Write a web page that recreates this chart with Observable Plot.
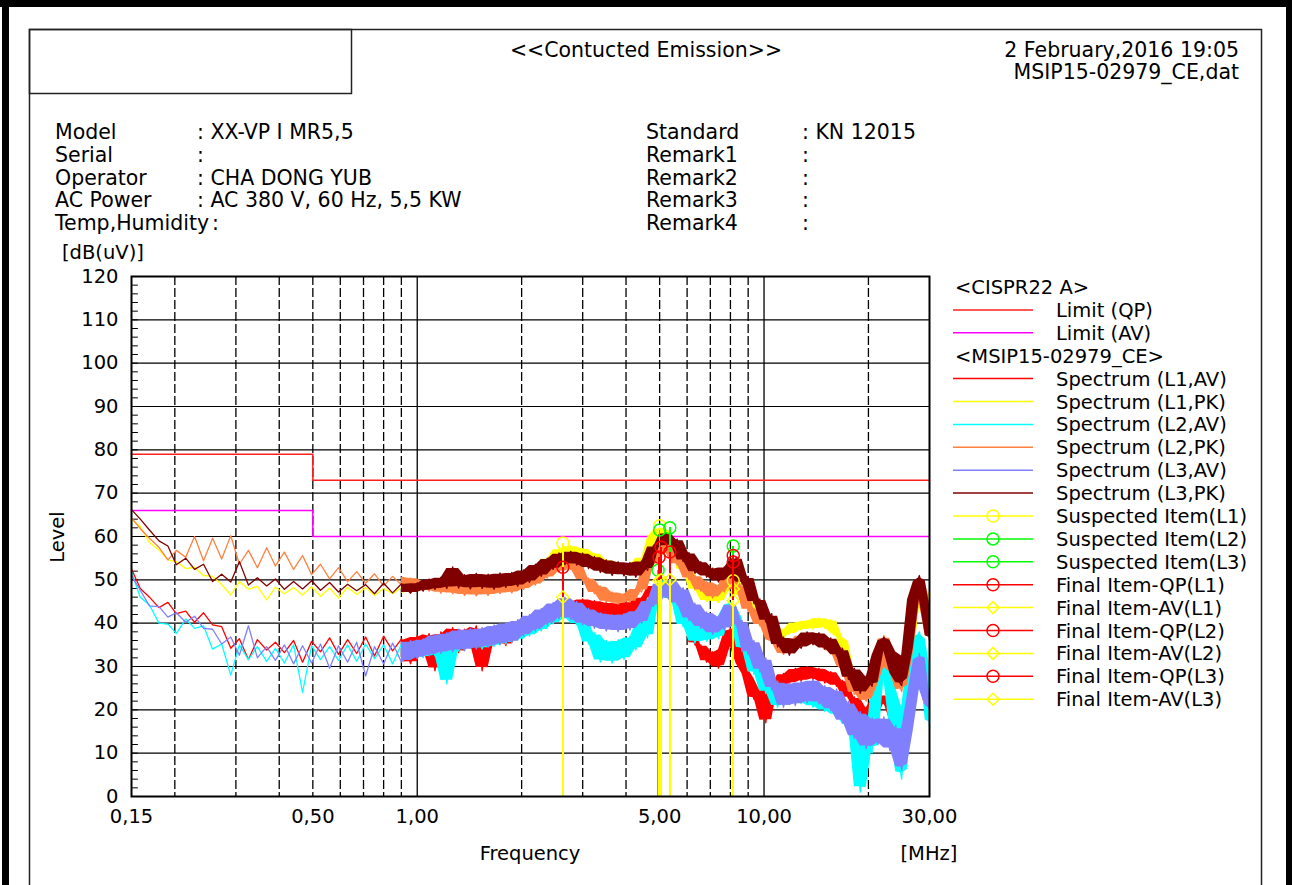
<!DOCTYPE html>
<html><head><meta charset="utf-8">
<script src="https://cdn.jsdelivr.net/npm/d3@7"></script>
<script src="https://cdn.jsdelivr.net/npm/@observablehq/plot@0.6"></script>
<style>
html,body{margin:0;padding:0;background:#fff;}
#page{position:relative;width:1292px;height:885px;overflow:hidden;background:#fff;font-family:"DejaVu Sans",sans-serif;}
#plot{position:absolute;left:0;top:250px;}
#overlay{position:absolute;left:0;top:0;pointer-events:none;}
</style></head>
<body><div id="page"><div id="plot"></div><svg id="overlay" width="1292" height="885"></svg></div>
<script>
// ---------- data ----------
const freqMHz = [0.150,0.159,0.169,0.180,0.191,0.202,0.215,0.228,0.242,0.257,
0.273,0.290,0.307,0.326,0.346,0.368,0.390,0.414,0.440,0.467,
0.496,0.526,0.559,0.593,0.630,0.669,0.710,0.753,0.800,0.849,
0.901,0.957,1.000,1.040,1.082,1.125,1.170,1.217,1.265,1.316,
1.369,1.423,1.480,1.539,1.601,1.665,1.732,1.801,1.873,1.948,
2.026,2.107,2.191,2.279,2.370,2.465,2.563,2.666,2.772,2.883,
2.999,3.119,3.243,3.373,3.508,3.648,3.794,3.946,4.104,4.268,
4.439,4.616,4.801,4.993,5.193,5.400,5.617,5.841,6.075,6.318,
6.571,6.833,7.107,7.391,7.687,7.994,8.314,8.646,8.992,9.352,
9.726,10.115,10.520,10.940,11.378,11.833,12.306,12.799,13.311,13.843,
14.397,14.973,15.572,16.194,16.842,17.516,18.217,18.945,19.703,20.491,
21.311,22.163,23.050,23.972,24.931,25.928,26.965,28.044,29.165,30.000];

const l1AV = [52.5,48.0,46.0,43.6,44.8,42.2,42.8,40.2,42.4,39.6,
39.2,34.2,36.4,31.6,36.2,33.8,35.6,33.2,36.0,31.0,
35.8,33.4,36.6,32.8,36.2,33.0,36.8,32.4,37.0,33.6,
36.4,30.6,37.2,33.8,37.6,29.0,38.0,34.4,39.0,33.2,
38.6,35.0,39.4,29.0,38.8,35.6,39.4,34.8,40.0,36.4,
40.8,37.4,41.6,38.8,43.0,40.2,44.2,41.6,45.0,42.6,
45.6,42.4,45.2,42.0,44.8,41.6,44.6,41.4,45.0,42.4,
46.0,44.2,48.8,46.6,49.2,45.4,46.4,41.6,41.0,35.0,
35.0,31.0,33.4,29.6,34.2,38.8,36.4,30.0,27.6,22.4,
25.0,17.0,26.2,24.6,28.4,26.0,29.6,26.6,30.0,27.0,
29.6,26.2,28.8,25.4,26.8,22.6,23.0,17.8,20.6,18.2,
23.2,21.4,23.4,17.0,18.4,20.0,28.4,26.0,25.2,20.0];

const l1PK = [64.0,62.3,58.6,56.9,54.6,54.2,52.6,52.9,51.0,50.8,
48.9,46.5,49.6,47.8,48.5,45.4,48.3,46.8,48.2,46.5,
48.4,46.2,48.1,45.8,48.3,46.6,48.2,46.4,48.0,46.8,
48.3,47.1,48.6,47.6,49.4,47.9,49.8,48.0,50.2,48.1,
49.9,48.2,50.1,48.6,50.4,48.7,50.5,49.1,51.0,49.4,
52.0,50.6,53.1,51.8,55.0,54.0,57.2,55.6,57.8,55.8,
57.2,54.6,56.1,53.2,54.6,52.4,53.6,51.8,53.5,52.0,
55.2,55.0,60.2,62.0,61.4,57.2,56.4,52.0,52.2,47.5,
48.2,45.0,46.6,44.8,47.8,50.6,49.4,46.0,46.4,42.5,
43.4,38.8,39.4,36.0,38.6,37.4,40.2,38.4,40.6,38.6,
41.2,38.8,40.8,37.4,36.4,29.0,28.2,24.0,26.0,26.0,
32.2,33.2,32.0,26.0,25.0,30.0,43.0,48.6,47.5,40.0];

const l2AV = [51.8,46.0,44.2,40.0,39.8,37.6,41.0,38.8,39.4,34.0,
35.2,28.0,35.0,31.6,34.6,31.2,34.2,30.8,35.0,24.0,
34.8,31.6,34.6,31.4,35.0,31.2,35.2,31.8,35.0,30.6,
35.2,31.8,35.6,32.0,36.2,32.4,36.6,26.0,37.0,33.6,
37.2,34.2,37.8,34.0,38.2,34.6,38.6,35.2,39.4,36.0,
40.2,37.0,41.2,38.2,42.8,39.8,44.2,41.2,43.6,39.6,
41.0,35.2,37.8,31.0,36.0,30.8,36.2,31.6,37.0,33.8,
40.6,36.6,46.6,45.8,50.0,45.4,46.0,39.2,41.0,35.4,
39.6,35.8,40.2,36.4,42.0,44.8,41.8,33.6,35.2,28.2,
30.6,23.8,26.2,20.6,25.8,21.2,25.6,21.4,25.4,20.6,
24.8,19.6,23.6,18.6,21.6,16.2,17.6,1.0,14.6,10.0,
28.0,33.0,26.6,13.4,4.0,22.0,34.0,38.0,31.6,16.0];

const l2PK = [64.3,61.8,59.6,57.5,54.6,56.8,55.2,60.0,54.4,59.6,
54.8,60.2,53.6,56.8,52.8,57.4,53.2,56.4,52.4,55.6,
51.2,53.6,50.2,52.8,49.6,51.9,49.2,51.4,48.6,50.8,
48.8,50.4,48.2,49.6,47.4,49.8,46.9,49.2,46.8,49.0,
46.4,48.8,46.3,48.7,46.4,48.9,46.8,49.1,47.0,49.6,
47.8,50.8,48.8,51.8,50.4,53.6,51.8,54.6,52.4,53.8,
49.8,50.4,46.8,48.6,44.8,47.2,44.4,46.8,44.8,48.0,
47.2,53.0,54.0,58.2,56.4,57.8,53.4,55.6,50.0,51.0,
47.4,49.6,45.8,48.8,47.2,52.4,48.0,48.6,42.8,43.4,
39.4,41.0,35.8,35.2,32.8,35.6,34.4,37.2,35.4,37.8,
35.0,36.4,33.4,34.8,29.8,28.6,23.6,24.2,22.0,25.0,
29.2,37.2,29.8,28.0,24.2,32.0,44.0,50.4,46.0,36.0];

const l3AV = [51.0,47.6,44.0,43.8,41.4,42.4,40.2,41.6,38.8,38.6,
35.2,36.8,32.6,39.4,32.0,34.6,31.4,35.0,30.6,34.8,
30.8,35.2,29.6,34.8,31.0,35.6,27.8,34.6,30.6,35.4,
31.0,36.0,31.8,36.4,32.4,37.4,33.0,37.8,33.4,38.6,
33.6,38.8,34.0,39.0,34.4,39.6,35.0,40.2,35.4,40.8,
37.0,42.0,38.2,43.4,39.6,44.8,41.0,46.0,40.8,45.0,
39.6,43.4,38.8,42.4,38.2,42.0,38.0,42.2,38.4,43.0,
40.0,45.4,43.8,49.4,46.0,50.0,44.2,48.2,40.6,44.6,
38.8,42.6,37.4,41.6,38.4,44.6,39.4,40.6,32.8,36.0,
28.8,32.0,24.6,26.6,20.6,26.2,21.0,26.6,21.6,27.0,
21.4,25.6,19.8,24.8,17.0,22.0,13.4,19.6,11.0,18.2,
12.0,18.4,10.6,16.4,6.0,14.0,25.0,33.0,24.0,20.0];

const l3PK = [66.2,64.0,61.5,59.0,57.8,53.5,55.0,52.4,53.6,49.6,
51.3,49.5,54.2,48.8,50.5,48.6,50.2,47.8,49.6,47.9,
49.8,47.6,49.4,47.2,49.0,47.5,48.9,46.8,49.2,47.0,
49.1,46.9,49.3,47.4,50.2,47.8,50.6,48.0,53.0,48.1,
51.2,47.9,51.5,48.0,51.3,47.8,51.6,48.2,51.7,48.5,
52.3,49.4,53.6,50.8,55.0,52.4,56.2,53.5,56.6,53.4,
56.2,52.6,55.4,51.7,54.6,51.0,54.2,50.9,54.0,50.6,
54.4,52.2,58.0,57.6,60.8,57.8,59.4,54.2,56.3,51.5,
54.2,50.6,52.7,49.5,53.0,50.4,55.2,49.0,50.8,44.5,
45.6,40.3,42.2,34.5,36.8,32.6,36.5,34.2,38.0,35.0,
37.8,34.0,36.6,32.4,34.2,27.0,29.6,23.8,27.8,25.4,
33.2,36.8,34.0,27.8,25.6,33.0,47.0,51.0,45.0,36.0];

const limitFreq = [0.15, 0.5, 30];
const limitQP = [79, 73, 73];
const limitAV = [66, 60, 60];

// marker items: frequency (MHz) and level (dB(uV))
const suspL1Freq = [2.63, 5.0, 8.15], suspL1Level = [58.5, 62.5, 49.8];
const suspL2Freq = [5.0, 8.15],       suspL2Level = [61.5, 57.8];
const suspL3Freq = [5.35, 4.95],      suspL3Level = [62.0, 52.2];
const qpL1Freq = [2.63, 4.98],  qpL1Level = [52.9, 55.2];
const avL1Freq = [2.63, 4.98],  avL1Level = [46.0, 49.8];
const qpL2Freq = [5.05, 8.15],  qpL2Level = [57.5, 55.6];
const avL2Freq = [5.05, 8.15],  avL2Level = [50.0, 47.9];
const qpL3Freq = [5.35, 8.15],  qpL3Level = [56.4, 54.1];
const avL3Freq = [5.35, 8.15],  avL3Level = [50.0, 45.2];

const yTicks = [0,10,20,30,40,50,60,70,80,90,100,110,120];
const yGrid = [10,20,30,40,50,60,70,80,90,100,110];
const yMinor = d3.range(0, 121, 2);
const xTickValues = [0.15, 0.5, 1, 5, 10, 30];
const xTickLabels = ["0,15", "0,50", "1,00", "5,00", "10,00", "30,00"];
const xGridSolid = [1, 10];
const xGridDashed = [0.2,0.3,0.4,0.5,0.6,0.7,0.8,0.9,2,3,4,5,6,7,8,9,20];

const spectrumColors = ["#ff0000","#ffff00","#00ffff","#ff8040","#8080ff","#800000"];
const spectrumValues = [l1AV, l1PK, l2AV, l2PK, l3AV, l3PK];
const denseFrom = 0.85;   // above this frequency the sweep is dense: drawn with a filled core band
const coreShare = 0.85;   // share of the local swing that the dense core covers

// ---------- build tables ----------
const rows = (fs, vs) => fs.map((f, i) => ({f, v: vs[i]}));
const spectra = spectrumValues.map(vals => rows(freqMHz, vals));
const bands = spectrumValues.map(vals => freqMHz.map((f, i) => {
  const nb = [vals[i - 1], vals[i], vals[i + 1]].filter(v => v !== undefined);
  const lo = d3.min(nb), hi = d3.max(nb), mid = (lo + hi) / 2, h = (hi - lo) / 2 * coreShare;
  return {f, lo: mid - h, hi: mid + h};
}).filter(d => d.f >= denseFrom));
const items = [
  {d: rows(suspL1Freq, suspL1Level), c: "#ffff00", s: "circle"},
  {d: rows(suspL2Freq, suspL2Level), c: "#00ff00", s: "circle"},
  {d: rows(suspL3Freq, suspL3Level), c: "#00ff00", s: "circle"},
  {d: rows(qpL1Freq, qpL1Level), c: "#ff0000", s: "circle"},
  {d: rows(avL1Freq, avL1Level), c: "#ffff00", s: "diamond2"},
  {d: rows(qpL2Freq, qpL2Level), c: "#ff0000", s: "circle"},
  {d: rows(avL2Freq, avL2Level), c: "#ffff00", s: "diamond2"},
  {d: rows(qpL3Freq, qpL3Level), c: "#ff0000", s: "circle"},
  {d: rows(avL3Freq, avL3Level), c: "#ffff00", s: "diamond2"}
];

const FONT = "DejaVu Sans";
const marks = [
  Plot.ruleY(yGrid, {stroke: "#000", strokeWidth: 1.2}),
  Plot.ruleX(xGridDashed, {stroke: "#000", strokeWidth: 1.3, strokeDasharray: "9,3"}),
  Plot.ruleX(xGridSolid, {stroke: "#000", strokeWidth: 1.3}),
  Plot.ruleY(yMinor, {x1: 0.15, x2: 0.157, stroke: "#000", strokeWidth: 1}),
  Plot.line(rows(limitFreq, limitQP), {x: "f", y: "v", curve: "step-after", stroke: "#ff2020", strokeWidth: 1.5}),
  Plot.line(rows(limitFreq, limitAV), {x: "f", y: "v", curve: "step-after", stroke: "#ff00ff", strokeWidth: 1.5}),
  ...spectra.flatMap((d, i) => [
    Plot.areaY(bands[i], {x: "f", y1: "lo", y2: "hi", fill: spectrumColors[i], curve: "linear"}),
    Plot.line(d, {x: "f", y: "v", stroke: spectrumColors[i], strokeWidth: 1.3})
  ]),
  ...items.flatMap(it => [
    Plot.ruleX(it.d, {x: "f", y1: 0, y2: "v", stroke: it.c, strokeWidth: 1.6, shapeRendering: "crispEdges"}),
    Plot.dot(it.d, {x: "f", y: "v", r: it.s === "circle" ? 6 : 5.5, symbol: it.s, stroke: it.c, fill: "none", strokeWidth: 1.5})
  ]),
  Plot.frame({stroke: "#000", strokeWidth: 2}),
  Plot.text(yTicks, {frameAnchor: "left", y: d => d, text: d => String(d), dx: -13, textAnchor: "end", fontSize: 19.5, fill: "#000"}),
  Plot.text(xTickValues, {x: d => d, frameAnchor: "bottom", dy: 26, text: (d, i) => xTickLabels[i], fontSize: 19.5, fill: "#000"})
];

const chart = Plot.plot({
  width: 1292, height: 626,
  marginLeft: 131, marginRight: 363, marginTop: 26, marginBottom: 80,
  x: {type: "log", domain: [0.15, 30], axis: null},
  y: {domain: [0, 120], axis: null},
  style: {background: "transparent", fontFamily: FONT, overflow: "visible"},
  marks
});
document.getElementById("plot").appendChild(chart);

// ---------- page furniture, header texts, legend ----------
const infoLabels = ["Model","Serial","Operator","AC Power","Temp,Humidity"];
const infoValues = [": XX-VP I MR5,5", ":", ": CHA DONG YUB", ": AC 380 V, 60 Hz, 5,5 KW", ":"];
const remarkLabels = ["Standard","Remark1","Remark2","Remark3","Remark4"];
const remarkValues = [": KN 12015", ":", ":", ":", ":"];
const legendLabels = ["<CISPR22 A>","Limit (QP)","Limit (AV)","<MSIP15-02979_CE>",
  "Spectrum (L1,AV)","Spectrum (L1,PK)","Spectrum (L2,AV)","Spectrum (L2,PK)","Spectrum (L3,AV)","Spectrum (L3,PK)",
  "Suspected Item(L1)","Suspected Item(L2)","Suspected Item(L3)",
  "Final Item-QP(L1)","Final Item-AV(L1)","Final Item-QP(L2)","Final Item-AV(L2)","Final Item-QP(L3)","Final Item-AV(L3)"];
const legendColors = [null,"#ff2020","#ff00ff",null,...spectrumColors,
  "#ffff00","#00ff00","#00ff00","#ff0000","#ffff00","#ff0000","#ffff00","#ff0000","#ffff00"];
const legendSymbols = [null,null,null,null,null,null,null,null,null,null,
  "circle","circle","circle","circle","diamond","circle","diamond","circle","diamond"];

const svg = d3.select("#overlay").style("font-family", FONT);
const txt = (x, y, s, size, anchor = "start") =>
  svg.append("text").attr("x", x).attr("y", y).attr("font-size", size).attr("text-anchor", anchor).attr("fill", "#000").text(s);

// frames
svg.append("rect").attr("x", 0).attr("y", 0).attr("width", 1292).attr("height", 7).attr("fill", "#000");
svg.append("rect").attr("x", 2).attr("y", 0).attr("width", 7).attr("height", 885).attr("fill", "#000");
svg.append("rect").attr("x", 1286).attr("y", 0).attr("width", 6).attr("height", 885).attr("fill", "#000");
svg.append("rect").attr("x", 29.5).attr("y", 29.5).attr("width", 1232).attr("height", 900).attr("fill", "none").attr("stroke", "#222").attr("stroke-width", 1.5);
svg.append("rect").attr("x", 29.5).attr("y", 29.5).attr("width", 322).attr("height", 64).attr("fill", "none").attr("stroke", "#222").attr("stroke-width", 1.5);

// header
txt(646, 57, "<<Contucted Emission>>", 20.5, "middle");
txt(1239, 57, "2 February,2016 19:05", 20.5, "end");
txt(1239, 79, "MSIP15-02979_CE,dat", 20.5, "end");
const valueX = [197, 197, 197, 197, 212];
infoLabels.forEach((s, i) => { txt(55, 139 + 22.75 * i, s, 20.5); txt(valueX[i], 139 + 22.75 * i, infoValues[i], 20.5); });
remarkLabels.forEach((s, i) => { txt(646, 139 + 22.75 * i, s, 20.5); txt(802, 139 + 22.75 * i, remarkValues[i], 20.5); });

// axis titles
txt(62, 259, "[dB(uV)]", 19.5);
svg.append("text").attr("transform", "translate(64,537) rotate(-90)").attr("font-size", 19.5)
  .attr("text-anchor", "middle").attr("fill", "#000").text("Level");
txt(530, 860, "Frequency", 19.5, "middle");
txt(929, 860, "[MHz]", 19.5, "middle");

// legend
legendLabels.forEach((s, i) => {
  const y = 287 + 22.9 * i;
  const c = legendColors[i];
  if (!c) { txt(955, y + 7, s, 19.5); return; }
  svg.append("line").attr("x1", 953).attr("x2", 1033).attr("y1", y).attr("y2", y).attr("stroke", c).attr("stroke-width", 1.5);
  const sym = legendSymbols[i];
  if (sym === "circle") svg.append("circle").attr("cx", 993).attr("cy", y).attr("r", 6).attr("fill", "none").attr("stroke", c).attr("stroke-width", 1.5);
  if (sym === "diamond") svg.append("path").attr("d", `M993,${y-6}L999,${y}L993,${y+6}L987,${y}Z`).attr("fill", "none").attr("stroke", c).attr("stroke-width", 1.5);
  txt(1056, y + 7, s, 19.5);
});
</script>
</body></html>
